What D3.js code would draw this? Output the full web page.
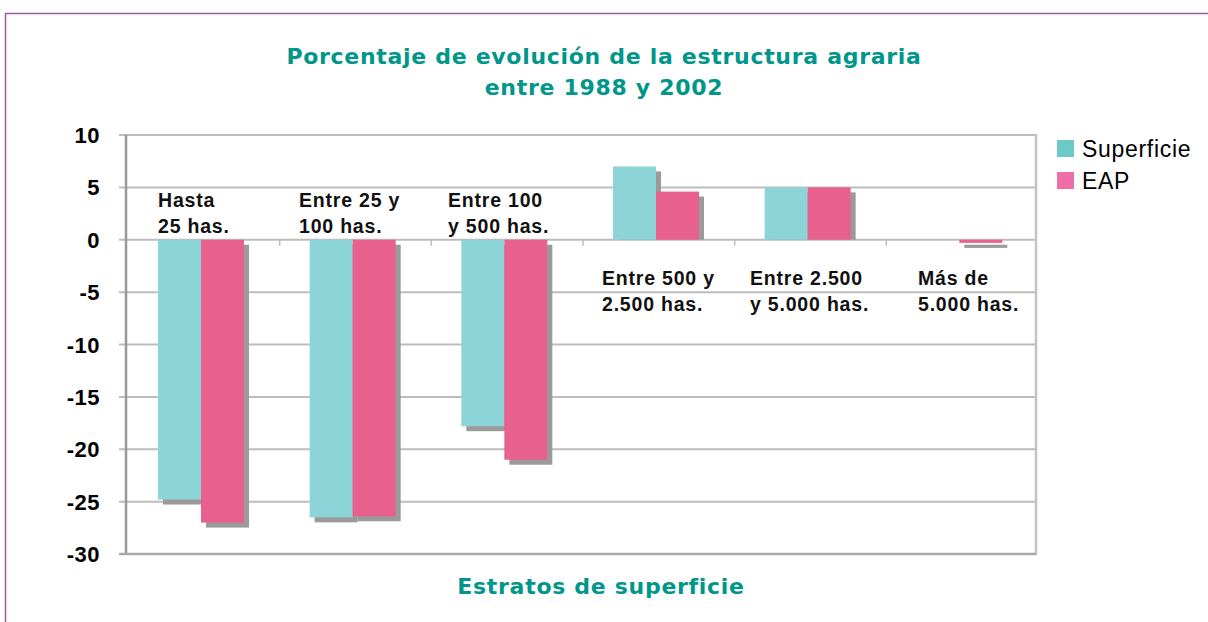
<!DOCTYPE html>
<html>
<head>
<meta charset="utf-8">
<script src="https://cdn.jsdelivr.net/npm/d3@7"></script>
<style>
  body { margin: 0; background: #fff; }
  svg { display: block; font-family: "Liberation Sans", Arial, sans-serif; }
</style>
</head>
<body>
<svg></svg>
<script>
var width = 1208,
	height = 622;

// data
var categories = ["Hasta|25 has.", "Entre 25 y|100 has.", "Entre 100|y 500 has.",
                  "Entre 500 y|2.500 has.", "Entre 2.500|y 5.000 has.", "Más de|5.000 has."];
var superficie = [-24.8, -26.5, -17.8, 7.0, 5.0, 0];
var eap = [-27.0, -26.4, -21.0, 4.6, 5.0, -0.3];
var seriesNames = ["Superficie", "EAP"];
var yTicks = [10, 5, 0, -5, -10, -15, -20, -25, -30];

var teal = "#00968a",
	cyan = "#8dd4d8",
	pink = "#e8608e";

var svg = d3.select("svg")
			.attr("width", width)
			.attr("height", height);

// outer frame
svg.append("path")
	.attr("d", "M5.5,622 V13.5 H1208")
	.attr("fill", "none")
	.attr("stroke", "#9b59a8")
	.attr("stroke-width", 1.5);

var pLeft = 126, pRight = 1036, pTop = 135, pBottom = 554;

var x = d3.scaleBand()
		.domain(d3.range(categories.length))
		.range([pLeft, pRight]);

var y = d3.scaleLinear()
		.domain([-30, 10])
		.range([pBottom, pTop]);

// grid
svg.append("g")
	.selectAll("line")
	.data(yTicks)
	.enter()
	.append("line")
	.attr("x1", pLeft - 7)
	.attr("x2", pRight)
	.attr("y1", function(d) { return y(d); })
	.attr("y2", function(d) { return y(d); })
	.attr("stroke", "#bdbdbd")
	.attr("stroke-width", 2);

// small ticks on the zero line between groups
svg.append("g")
	.selectAll("line")
	.data(d3.range(1, categories.length))
	.enter()
	.append("line")
	.attr("x1", function(d) { return pLeft + d * x.bandwidth() + 2; })
	.attr("x2", function(d) { return pLeft + d * x.bandwidth() + 2; })
	.attr("y1", y(0))
	.attr("y2", y(0) + 6)
	.attr("stroke", "#bdbdbd")
	.attr("stroke-width", 1.5);

// axes lines
svg.append("line")
	.attr("x1", pLeft).attr("x2", pLeft)
	.attr("y1", pTop).attr("y2", pBottom + 1)
	.attr("stroke", "#999").attr("stroke-width", 2.5);
svg.append("line")
	.attr("x1", pRight).attr("x2", pRight)
	.attr("y1", pTop - 1).attr("y2", pBottom + 1)
	.attr("stroke", "#c4c4c4").attr("stroke-width", 2.5);
svg.append("line")
	.attr("x1", pLeft - 7).attr("x2", pRight)
	.attr("y1", pBottom).attr("y2", pBottom)
	.attr("stroke", "#aaa").attr("stroke-width", 2.5);

// y labels
svg.append("g")
	.selectAll("text")
	.data(yTicks)
	.enter()
	.append("text")
	.attr("x", 100)
	.attr("y", function(d) { return y(d) + 8; })
	.attr("text-anchor", "end")
	.style("font-size", "22px")
	.style("font-weight", "bold")
	.style("letter-spacing", "0.5px")
	.text(function(d) { return d; });

// bars
var barW = 43, off0 = 32;
var rows = categories.map(function(c, i) {
	return [{v: superficie[i], c: cyan, dx: off0},
	        {v: eap[i], c: pink, dx: off0 + barW}].map(function(b) { b.i = i; return b; });
});
var flat = d3.merge(rows).filter(function(d) { return d.v !== 0; });

function barTop(d) { return Math.min(y(d.v), y(0)); }
function barH(d) { return Math.max(Math.abs(y(d.v) - y(0)), 1.5); }

var g = svg.append("g");
// drop shadow, kept above the zero line for positive bars
g.selectAll("rect.shadow")
	.data(flat)
	.enter()
	.append("rect")
	.attr("class", "shadow")
	.attr("x", function(d) { return x(d.i) + d.dx + 5; })
	.attr("y", function(d) { return barTop(d) + 5; })
	.attr("width", barW)
	.attr("height", function(d) { return d.v > 0 ? barH(d) - 5 : barH(d); })
	.attr("fill", "#9a9a9a");

g.selectAll("rect.bar")
	.data(flat)
	.enter()
	.append("rect")
	.attr("class", "bar")
	.attr("x", function(d) { return x(d.i) + d.dx; })
	.attr("y", barTop)
	.attr("width", barW)
	.attr("height", barH)
	.attr("fill", function(d) { return d.c; });

// category labels inside the plot
var labelX = [158, 299, 448, 602, 750, 918];
categories.forEach(function(c, i) {
	var y0 = i < 3 ? 207 : 285;
	var t = svg.append("text")
		.attr("x", labelX[i])
		.attr("y", y0)
		.style("font-size", "19.5px")
		.style("font-weight", "bold")
		.style("letter-spacing", "0.8px")
		.attr("fill", "#111");
	c.split("|").forEach(function(line, k) {
		t.append("tspan")
			.attr("x", labelX[i])
			.attr("dy", k === 0 ? 0 : 26)
			.text(line);
	});
});

// title
var titleFont = '"DejaVu Sans", sans-serif';
svg.append("text")
	.attr("x", 604).attr("y", 64)
	.attr("text-anchor", "middle")
	.attr("fill", teal)
	.style("font-family", titleFont)
	.style("font-size", "22px")
	.style("font-weight", "bold")
	.style("letter-spacing", "0.7px")
	.text("Porcentaje de evolución de la estructura agraria");
svg.append("text")
	.attr("x", 604).attr("y", 95)
	.attr("text-anchor", "middle")
	.attr("fill", teal)
	.style("font-family", titleFont)
	.style("font-size", "22px")
	.style("font-weight", "bold")
	.style("letter-spacing", "0.7px")
	.text("entre 1988 y 2002");

// x axis title
svg.append("text")
	.attr("x", 601).attr("y", 594)
	.attr("text-anchor", "middle")
	.attr("fill", teal)
	.style("font-family", titleFont)
	.style("font-size", "22px")
	.style("font-weight", "bold")
	.style("letter-spacing", "0.7px")
	.text("Estratos de superficie");

// legend
var legend = svg.append("g")
	.selectAll("g")
	.data(seriesNames)
	.enter()
	.append("g")
	.attr("transform", function(d, i) { return "translate(1057," + (140 + i * 32) + ")"; });
legend.append("rect")
	.attr("width", 17).attr("height", 17)
	.attr("fill", function(d, i) { return i === 0 ? "#6ccac6" : "#f06ea8"; });
legend.append("text")
	.attr("x", 25).attr("y", 17)
	.style("font-size", "23px")
	.style("letter-spacing", "0.7px")
	.text(function(d) { return d; });
</script>
</body>
</html>
